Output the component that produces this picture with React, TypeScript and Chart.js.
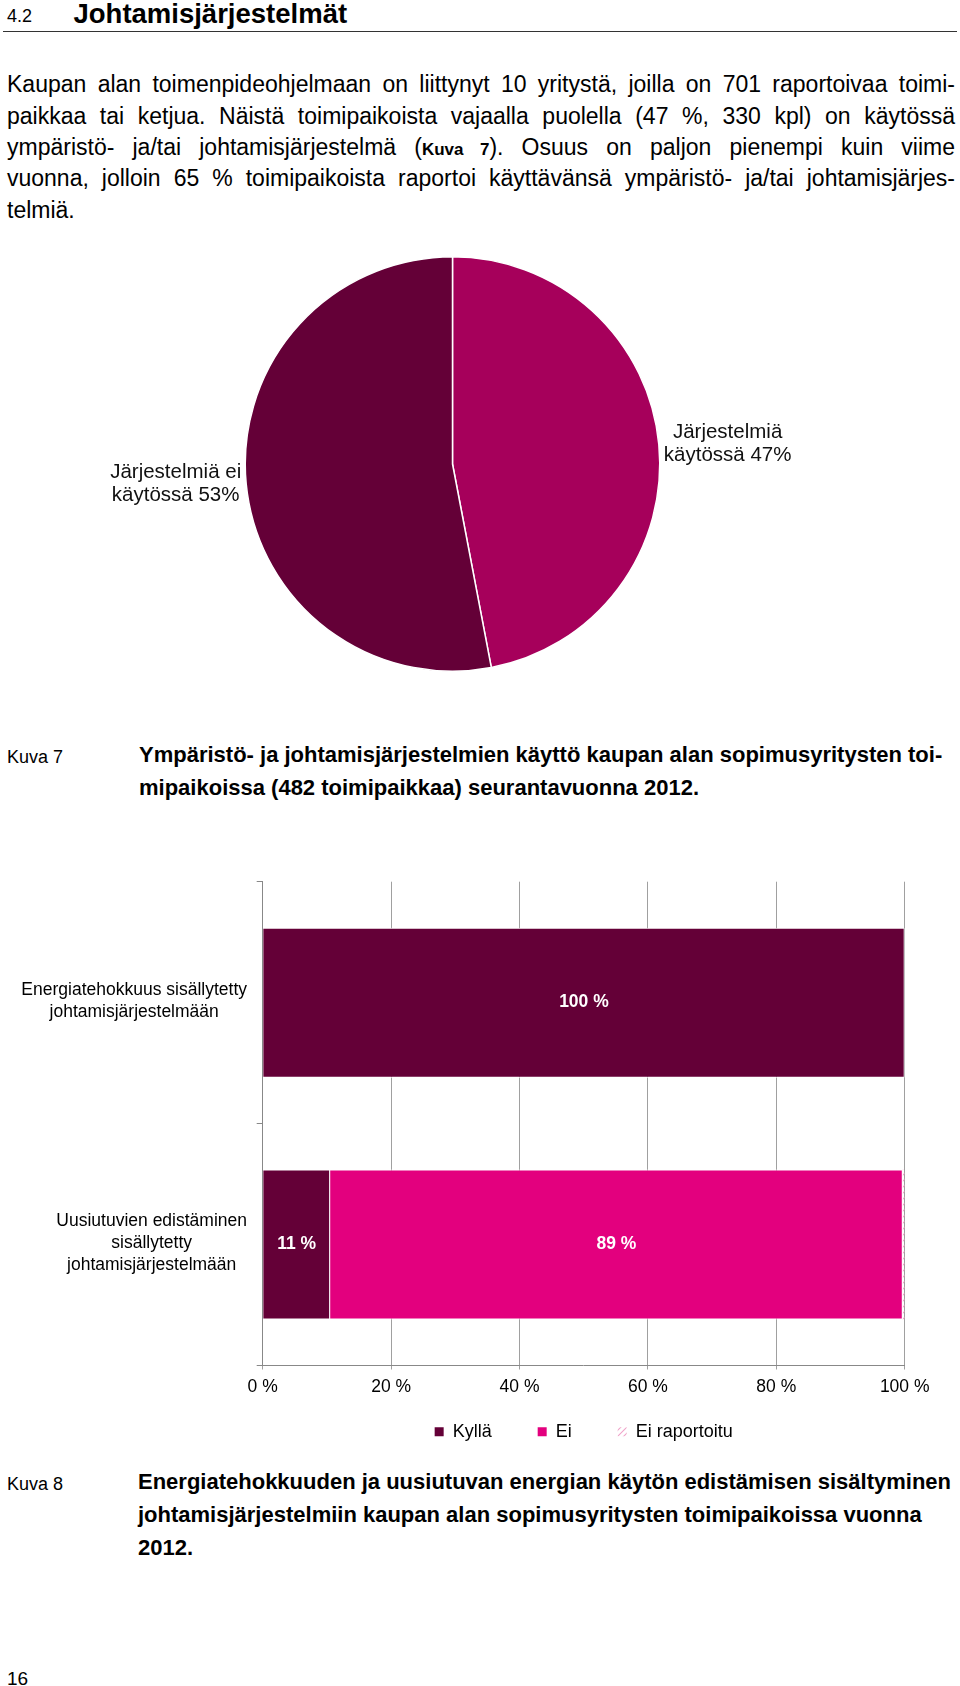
import React, { useEffect, useRef } from 'react';
import { Chart, registerables } from 'chart.js';

Chart.register(...registerables);

const FONT = "'Liberation Sans', Arial, Helvetica, sans-serif";

// ---- Kuva 7 (pie) data ----
const pieLabels = ['Järjestelmiä käytössä', 'Järjestelmiä ei käytössä'];
const pieLabelLines = [['Järjestelmiä', 'käytössä'], ['Järjestelmiä ei', 'käytössä']];
const pieValues = [47, 53];
const pieColors = ['#a6005b', '#640037'];

// ---- Kuva 8 (stacked bar) data ----
const barCategories = [
  ['Energiatehokkuus sisällytetty', 'johtamisjärjestelmään'],
  ['Uusiutuvien edistäminen', 'sisällytetty', 'johtamisjärjestelmään'],
];
const seriesNames = ['Kyllä', 'Ei', 'Ei raportoitu'];
const kyllaValues = [100, 10.5];
const eiValues = [0, 89.2];
const eiRaportoituValues = [0, 0.3];
const seriesColors = ['#640037', '#e3007e'];
const xTickValues = [0, 20, 40, 60, 80, 100];

const paragraphLines = [
  'Kaupan alan toimenpideohjelmaan on liittynyt 10 yritystä, joilla on 701 raportoivaa toimi-',
  'paikkaa tai ketjua. Näistä toimipaikoista vajaalla puolella (47 %, 330 kpl) on käytössä',
  'LINE3',
  'vuonna, jolloin 65 % toimipaikoista raportoi käyttävänsä ympäristö- ja/tai johtamisjärjes-',
  'telmiä.',
];
const caption7 = ['Ympäristö- ja johtamisjärjestelmien käyttö kaupan alan sopimusyritysten toi-', 'mipaikoissa (482 toimipaikkaa) seurantavuonna 2012.'];
const caption8 = [
  'Energiatehokkuuden ja uusiutuvan energian käytön edistämisen sisältyminen',
  'johtamisjärjestelmiin kaupan alan sopimusyritysten toimipaikoissa vuonna',
  '2012.',
];

type TP = { x: number; b: number; size: number; bold?: boolean; children: React.ReactNode; style?: React.CSSProperties };
const T = ({ x, b, size, bold, children, style }: TP) => (
  <div
    style={{
      position: 'absolute',
      left: x,
      top: b - 0.8465 * size,
      fontSize: size,
      lineHeight: `${size}px`,
      fontWeight: bold ? 'bold' : 'normal',
      whiteSpace: 'nowrap',
      ...style,
    }}
  >
    {children}
  </div>
);

function makeHatch(): CanvasPattern | string {
  const c = document.createElement('canvas');
  c.width = 6;
  c.height = 6;
  const g = c.getContext('2d');
  if (!g) return '#f4b3d3';
  g.strokeStyle = '#f0a3c9';
  g.lineWidth = 1.1;
  g.beginPath();
  g.moveTo(0, 6);
  g.lineTo(6, 0);
  g.moveTo(-1, 1);
  g.lineTo(1, -1);
  g.moveTo(5, 7);
  g.lineTo(7, 5);
  g.stroke();
  return g.createPattern(c, 'repeat') || '#f4b3d3';
}

const pieLabelPlugin = {
  id: 'pieLabels',
  afterDatasetsDraw(chart: any) {
    const ctx = chart.ctx;
    const meta = chart.getDatasetMeta(0);
    ctx.save();
    ctx.font = `20.5px ${FONT}`;
    ctx.fillStyle = '#111';
    ctx.textAlign = 'center';
    ctx.textBaseline = 'middle';
    meta.data.forEach((arc: any, i: number) => {
      const p = arc.getProps(['x', 'y', 'startAngle', 'endAngle', 'outerRadius'], true);
      const mid = (p.startAngle + p.endAngle) / 2;
      const d = p.outerRadius + 5;
      const ax = p.x + Math.cos(mid) * d;
      const ay = p.y + Math.sin(mid) * d;
      const lines = pieLabelLines[i].slice();
      lines[lines.length - 1] = `${lines[lines.length - 1]} ${pieValues[i]}%`;
      const w = Math.max(...lines.map((l) => ctx.measureText(l).width));
      const cx = Math.cos(mid) >= 0 ? ax + w / 2 : ax - w / 2;
      const lh = 23;
      lines.forEach((l, k) => {
        ctx.fillText(l, cx, ay + (k - (lines.length - 1) / 2) * lh);
      });
    });
    ctx.restore();
  },
};

const barLabelPlugin = {
  id: 'barLabels',
  afterDraw(chart: any) {
    const ctx = chart.ctx;
    ctx.save();
    ctx.font = `bold 17.5px ${FONT}`;
    ctx.fillStyle = '#ffffff';
    ctx.textAlign = 'center';
    ctx.textBaseline = 'middle';
    [0, 1].forEach((di) => {
      const meta = chart.getDatasetMeta(di);
      const vals = chart.data.datasets[di].data as number[];
      meta.data.forEach((el: any, i: number) => {
        const v = vals[i];
        if (v < 1) return;
        const p = el.getProps(['x', 'y', 'base'], true);
        ctx.fillText(`${Math.round(v)} %`, (p.x + p.base) / 2, p.y);
      });
    });
    // category labels on the left
    const ys = chart.scales.y;
    ctx.font = `17.5px ${FONT}`;
    ctx.fillStyle = '#000';
    const rightEdge = ys.right - 15.7;
    barCategories.forEach((lines, i) => {
      const y = ys.getPixelForValue(i);
      const w = Math.max(...lines.map((l) => ctx.measureText(l).width));
      const cx = rightEdge - w / 2;
      const lh = 22;
      lines.forEach((l, k) => {
        ctx.fillText(l, cx, y - 1 + (k - (lines.length - 1) / 2) * lh);
      });
    });
    // x tick labels
    const xs = chart.scales.x;
    const ty = chart.chartArea.bottom + 22;
    xTickValues.forEach((v) => {
      ctx.fillText(`${v} %`, xs.getPixelForValue(v), ty);
    });
    ctx.restore();
  },
};

function PieChart() {
  const ref = useRef<HTMLCanvasElement>(null);
  useEffect(() => {
    if (!ref.current) return;
    const chart = new Chart(ref.current, {
      type: 'pie',
      data: {
        labels: pieLabels,
        datasets: [
          {
            data: pieValues,
            backgroundColor: pieColors,
            borderColor: '#ffffff',
            borderWidth: 1.5,
          },
        ],
      },
      options: {
        responsive: false,
        animation: false,
        layout: { padding: 0 },
        plugins: { legend: { display: false }, tooltip: { enabled: false } },
      },
      plugins: [pieLabelPlugin],
    } as any);
    return () => chart.destroy();
  }, []);
  return <canvas ref={ref} width={881} height={416} style={{ position: 'absolute', left: 12, top: 256 }} />;
}

function BarChart() {
  const ref = useRef<HTMLCanvasElement>(null);
  useEffect(() => {
    if (!ref.current) return;
    const hatch = makeHatch();
    const chart = new Chart(ref.current, {
      type: 'bar',
      data: {
        labels: barCategories.map((_, i) => String(i)),
        datasets: [
          { label: seriesNames[0], data: kyllaValues, backgroundColor: seriesColors[0], borderColor: '#ffffff', borderWidth: 1 },
          { label: seriesNames[1], data: eiValues, backgroundColor: seriesColors[1], borderColor: '#ffffff', borderWidth: 1 },
          { label: seriesNames[2], data: eiRaportoituValues, backgroundColor: hatch, borderColor: '#ffffff', borderWidth: 0 },
        ],
      },
      options: {
        indexAxis: 'y',
        responsive: false,
        animation: false,
        categoryPercentage: 1,
        barPercentage: 0.62,
        layout: { padding: { top: 21.7, right: 55.3, bottom: 9.3, left: 0 } },
        scales: {
          x: {
            stacked: true,
            min: 0,
            max: 100,
            afterBuildTicks: (s: any) => {
              s.ticks = xTickValues.map((v) => ({ value: v }));
            },
            afterFit: (s: any) => {
              s.height = 11.2;
            },
            ticks: { display: false, autoSkip: false },
            grid: { color: '#a0a0a0', lineWidth: 1, tickLength: 4, drawTicks: true },
            border: { color: '#888888', width: 1 },
          },
          y: {
            stacked: true,
            afterFit: (s: any) => {
              s.width = 262.7;
            },
            ticks: { display: false },
            grid: { offset: true, drawOnChartArea: false, drawTicks: true, tickLength: 6, color: '#888888' },
            border: { color: '#888888', width: 1 },
          },
        },
        plugins: {
          tooltip: { enabled: false },
          legend: {
            position: 'bottom',
            fullSize: false,
            align: 'center',
            labels: {
              boxWidth: 9,
              boxHeight: 9,
              padding: 46,
              color: '#000',
              font: { family: FONT, size: 18 },
              generateLabels: (c: any) =>
                (Chart.defaults.plugins.legend.labels.generateLabels as any)(c).map((l: any) => ({
                  ...l,
                  lineWidth: 0,
                  strokeStyle: 'rgba(0,0,0,0)',
                })),
            },
          },
        },
      },
      plugins: [barLabelPlugin],
    } as any);
    return () => chart.destroy();
  }, []);
  return <canvas ref={ref} width={960} height={600} style={{ position: 'absolute', left: 0, top: 860 }} />;
}

export default function App() {
  const paraTop = 92.7;
  const paraStep = 31.4;
  return (
    <div
      style={{
        position: 'relative',
        width: 960,
        height: 1686,
        overflow: 'hidden',
        background: '#fff',
        color: '#000',
        fontFamily: FONT,
      }}
    >
      <style>{`body{margin:0}`}</style>
      <T x={7} b={22.7} size={18}>4.2</T>
      <T x={73.5} b={23.3} size={27.5} bold>
        Johtamisjärjestelmät
      </T>
      <div style={{ position: 'absolute', left: 3, top: 31, width: 954, height: 0, borderTop: '1.5px solid #333' }} />

      {paragraphLines.map((line, i) => {
        const last = i === paragraphLines.length - 1;
        const content =
          line === 'LINE3' ? (
            <>
              ympäristö- ja/tai johtamisjärjestelmä (<b style={{ fontSize: 17 }}>Kuva 7</b>). Osuus on paljon pienempi kuin viime
            </>
          ) : (
            line
          );
        return (
          <div
            key={i}
            style={{
              position: 'absolute',
              left: 7,
              width: 948,
              top: paraTop + i * paraStep - 0.8465 * 23,
              fontSize: 23,
              lineHeight: '23px',
              textAlign: last ? 'left' : 'justify',
              textAlignLast: last ? 'auto' : 'justify',
            } as React.CSSProperties}
          >
            {content}
          </div>
        );
      })}

      <PieChart />

      <T x={7} b={763} size={18}>Kuva 7</T>
      {caption7.map((l, i) => (
        <T key={i} x={139} b={763 + i * 33} size={22} bold>
          {l}
        </T>
      ))}

      <BarChart />

      <T x={7} b={1490} size={18}>Kuva 8</T>
      {caption8.map((l, i) => (
        <T key={i} x={138} b={1490 + i * 33} size={22} bold>
          {l}
        </T>
      ))}

      <T x={7} b={1685} size={19}>16</T>
    </div>
  );
}
